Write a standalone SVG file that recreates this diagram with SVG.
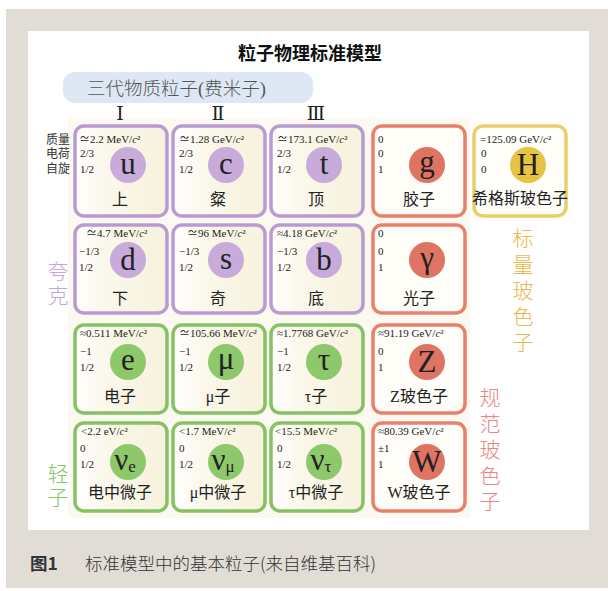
<svg xmlns="http://www.w3.org/2000/svg" width="608" height="591" viewBox="0 0 608 591">
<defs>
<linearGradient id="wash" x1="0" y1="0" x2="1" y2="0">
<stop offset="0" stop-color="#ffffff"/>
<stop offset="0.3" stop-color="#fbf8ec"/>
<stop offset="1" stop-color="#f7f2dc"/>
</linearGradient>
<style>
.cell{stroke-width:3.5;}
.q{fill:url(#wash);stroke:#b99bd3;}
.l{fill:url(#wash);stroke:#84c263;}
.g{fill:#fffdf8;stroke:#e9806e;}
.h{fill:#fffef8;stroke:#ecce68;}
.cq{fill:#c8aadb;}
.cl{fill:#8dc86a;}
.cg{fill:#df7462;}
.ch{fill:#e8c241;}
.m{font-family:"Liberation Serif","Noto Sans CJK SC",serif;font-size:11px;fill:#222;}
.sym{font-family:"Liberation Serif","DejaVu Serif",serif;font-size:31px;fill:#222;text-anchor:middle;}
.nm{font-family:"Liberation Serif","Noto Sans CJK SC",sans-serif;font-size:16px;fill:#222;text-anchor:middle;}
.side{font-family:"Liberation Serif","Noto Sans CJK SC",sans-serif;font-size:21px;text-anchor:middle;font-weight:300;}
.rl{font-family:"Liberation Serif","Noto Sans CJK SC",sans-serif;font-size:12px;fill:#333;}
</style>
</defs>
<rect x="6" y="9" width="602" height="579" fill="#e1dcd6"/>
<rect x="28" y="31" width="561" height="499" fill="#ffffff"/>
<rect x="68" y="118" width="402" height="400" fill="#fcfaf0"/>
<text x="310" y="60" text-anchor="middle" font-family="Noto Sans CJK SC,sans-serif" font-size="18" font-weight="700" fill="#111">粒子物理标准模型</text>
<g id="banner">
<rect x="63" y="72" width="250" height="31" rx="12" fill="#dde8f4"/>
<text x="87" y="95" font-family="Liberation Serif,Noto Sans CJK SC,sans-serif" font-size="18.5" fill="#555" font-weight="300">三代物质粒子(费米子)</text>
</g>
<g id="generations" font-family="DejaVu Serif,Liberation Serif,serif" font-size="19" fill="#222" text-anchor="middle">
<text x="120" y="120">Ⅰ</text>
<text x="218" y="120">Ⅱ</text>
<text x="316" y="120">Ⅲ</text>
</g>
<g id="rowlabels">
<text class="rl" x="46" y="144">质量</text>
<text class="rl" x="46" y="158">电荷</text>
<text class="rl" x="46" y="173">自旋</text>
</g>
<g id="u"><rect class="cell q" x="75" y="126" width="92" height="90" rx="9"/><circle class="cq" cx="128" cy="165" r="18"/><text class="sym" x="128" y="174">u</text><text class="m" x="79" y="143">≃2.2 MeV/<tspan font-style="italic">c</tspan>²</text><text class="m" x="80" y="157">2/3</text><text class="m" x="80" y="173">1/2</text><text class="nm" x="120" y="205">上</text></g>
<g id="c"><rect class="cell q" x="173" y="126" width="92" height="90" rx="9"/><circle class="cq" cx="226" cy="165" r="18"/><text class="sym" x="226" y="174">c</text><text class="m" x="179" y="143">≃1.28 GeV/<tspan font-style="italic">c</tspan>²</text><text class="m" x="179" y="157">2/3</text><text class="m" x="179" y="173">1/2</text><text class="nm" x="218" y="205">粲</text></g>
<g id="t"><rect class="cell q" x="271" y="126" width="92" height="90" rx="9"/><circle class="cq" cx="324" cy="165" r="18"/><text class="sym" x="324" y="174">t</text><text class="m" x="277" y="143">≃173.1 GeV/<tspan font-style="italic">c</tspan>²</text><text class="m" x="277" y="157">2/3</text><text class="m" x="277" y="173">1/2</text><text class="nm" x="316" y="205">顶</text></g>
<g id="g"><rect class="cell g" x="373" y="126" width="92" height="90" rx="9"/><circle class="cg" cx="427" cy="165" r="18"/><text class="sym" x="427" y="172">g</text><text class="m" x="378" y="143">0</text><text class="m" x="378" y="157">0</text><text class="m" x="378" y="173">1</text><text class="nm" x="419" y="205">胶子</text></g>
<g id="H"><rect class="cell h" x="474" y="126" width="92" height="90" rx="9"/><circle class="ch" cx="528" cy="165" r="18"/><text class="sym" x="528" y="175">H</text><text class="m" x="480" y="143">=125.09 GeV/<tspan font-style="italic">c</tspan>²</text><text class="m" x="481" y="157">0</text><text class="m" x="481" y="173">0</text><text class="nm" x="520" y="204" font-size="13.5">希格斯玻色子</text></g>

<g id="d"><rect class="cell q" x="75" y="225" width="92" height="88" rx="9"/><circle class="cq" cx="128" cy="260" r="18"/><text class="sym" x="128" y="270">d</text><text class="m" x="86" y="237">≃4.7 MeV/<tspan font-style="italic">c</tspan>²</text><text class="m" x="79" y="255">−1/3</text><text class="m" x="79" y="271">1/2</text><text class="nm" x="120" y="304">下</text></g>
<g id="s"><rect class="cell q" x="173" y="225" width="92" height="88" rx="9"/><circle class="cq" cx="226" cy="260" r="18"/><text class="sym" x="226" y="269">s</text><text class="m" x="187" y="237">≃96 MeV/<tspan font-style="italic">c</tspan>²</text><text class="m" x="179" y="255">−1/3</text><text class="m" x="179" y="271">1/2</text><text class="nm" x="218" y="304">奇</text></g>
<g id="b"><rect class="cell q" x="271" y="225" width="92" height="88" rx="9"/><circle class="cq" cx="324" cy="260" r="18"/><text class="sym" x="324" y="270">b</text><text class="m" x="277" y="237">≈4.18 GeV/<tspan font-style="italic">c</tspan>²</text><text class="m" x="277" y="255">−1/3</text><text class="m" x="277" y="271">1/2</text><text class="nm" x="316" y="304">底</text></g>
<g id="gamma"><rect class="cell g" x="373" y="225" width="92" height="88" rx="9"/><circle class="cg" cx="427" cy="260" r="18"/><text class="sym" x="427" y="268">γ</text><text class="m" x="378" y="237">0</text><text class="m" x="378" y="255">0</text><text class="m" x="378" y="271">1</text><text class="nm" x="419" y="304">光子</text></g>

<g id="e"><rect class="cell l" x="75" y="325" width="92" height="88" rx="9"/><circle class="cl" cx="128" cy="362" r="18"/><text class="sym" x="128" y="370">e</text><text class="m" x="80" y="337">≈0.511 MeV/<tspan font-style="italic">c</tspan>²</text><text class="m" x="80" y="355">−1</text><text class="m" x="80" y="371">1/2</text><text class="nm" x="120" y="402">电子</text></g>
<g id="mu"><rect class="cell l" x="173" y="325" width="92" height="88" rx="9"/><circle class="cl" cx="226" cy="362" r="18"/><text class="sym" x="226" y="369">μ</text><text class="m" x="179" y="337">≃105.66 MeV/<tspan font-style="italic">c</tspan>²</text><text class="m" x="179" y="355">−1</text><text class="m" x="179" y="371">1/2</text><text class="nm" x="218" y="402">μ子</text></g>
<g id="tau"><rect class="cell l" x="271" y="325" width="92" height="88" rx="9"/><circle class="cl" cx="324" cy="362" r="18"/><text class="sym" x="324" y="370">τ</text><text class="m" x="277" y="337">≈1.7768 GeV/<tspan font-style="italic">c</tspan>²</text><text class="m" x="277" y="355">−1</text><text class="m" x="277" y="371">1/2</text><text class="nm" x="316" y="402">τ子</text></g>
<g id="Z"><rect class="cell g" x="373" y="325" width="92" height="88" rx="9"/><circle class="cg" cx="427" cy="362" r="18"/><text class="sym" x="427" y="372">Z</text><text class="m" x="378" y="337">≈91.19 GeV/<tspan font-style="italic">c</tspan>²</text><text class="m" x="378" y="355">0</text><text class="m" x="378" y="371">1</text><text class="nm" x="419" y="402">Z玻色子</text></g>

<g id="nue"><rect class="cell l" x="75" y="423" width="92" height="88" rx="9"/><circle class="cl" cx="128" cy="462" r="18"/><text class="sym" x="125" y="470">ν<tspan font-size="17" dy="2">e</tspan></text><text class="m" x="81" y="435">&lt;2.2 eV/<tspan font-style="italic">c</tspan>²</text><text class="m" x="80" y="452">0</text><text class="m" x="80" y="468">1/2</text><text class="nm" x="120" y="498">电中微子</text></g>
<g id="numu"><rect class="cell l" x="173" y="423" width="92" height="88" rx="9"/><circle class="cl" cx="226" cy="462" r="18"/><text class="sym" x="223" y="470">ν<tspan font-size="17" dy="2">μ</tspan></text><text class="m" x="179" y="435">&lt;1.7 MeV/<tspan font-style="italic">c</tspan>²</text><text class="m" x="179" y="452">0</text><text class="m" x="179" y="468">1/2</text><text class="nm" x="218" y="498">μ中微子</text></g>
<g id="nutau"><rect class="cell l" x="271" y="423" width="92" height="88" rx="9"/><circle class="cl" cx="324" cy="462" r="18"/><text class="sym" x="321" y="470">ν<tspan font-size="17" dy="2">τ</tspan></text><text class="m" x="275" y="435">&lt;15.5 MeV/<tspan font-style="italic">c</tspan>²</text><text class="m" x="277" y="452">0</text><text class="m" x="277" y="468">1/2</text><text class="nm" x="316" y="498">τ中微子</text></g>
<g id="W"><rect class="cell g" x="373" y="423" width="92" height="88" rx="9"/><circle class="cg" cx="427" cy="462" r="18"/><text class="sym" x="427" y="472">W</text><text class="m" x="378" y="435">≈80.39 GeV/<tspan font-style="italic">c</tspan>²</text><text class="m" x="378" y="452">±1</text><text class="m" x="378" y="468">1</text><text class="nm" x="419" y="498">W玻色子</text></g>

<g id="quarks-label" class="side" fill="#c3a6d8"><text x="58" y="279">夸</text><text x="58" y="303">克</text></g>
<g id="leptons-label" class="side" fill="#86c466"><text x="58" y="481">轻</text><text x="58" y="505">子</text></g>
<g id="scalar-label" class="side" fill="#e8b84c"><text x="523" y="246">标</text><text x="523" y="272">量</text><text x="523" y="298">玻</text><text x="523" y="324">色</text><text x="523" y="350">子</text></g>
<g id="gauge-label" class="side" fill="#ea8680"><text x="490" y="405">规</text><text x="490" y="431">范</text><text x="490" y="457">玻</text><text x="490" y="483">色</text><text x="490" y="509">子</text></g>

<g id="caption" font-family="Noto Sans CJK SC,sans-serif" font-size="17.5" fill="#333">
<text x="30" y="570" font-weight="700">图1</text>
<text x="85" y="570" font-weight="300">标准模型中的基本粒子(来自维基百科)</text>
</g>
</svg>
